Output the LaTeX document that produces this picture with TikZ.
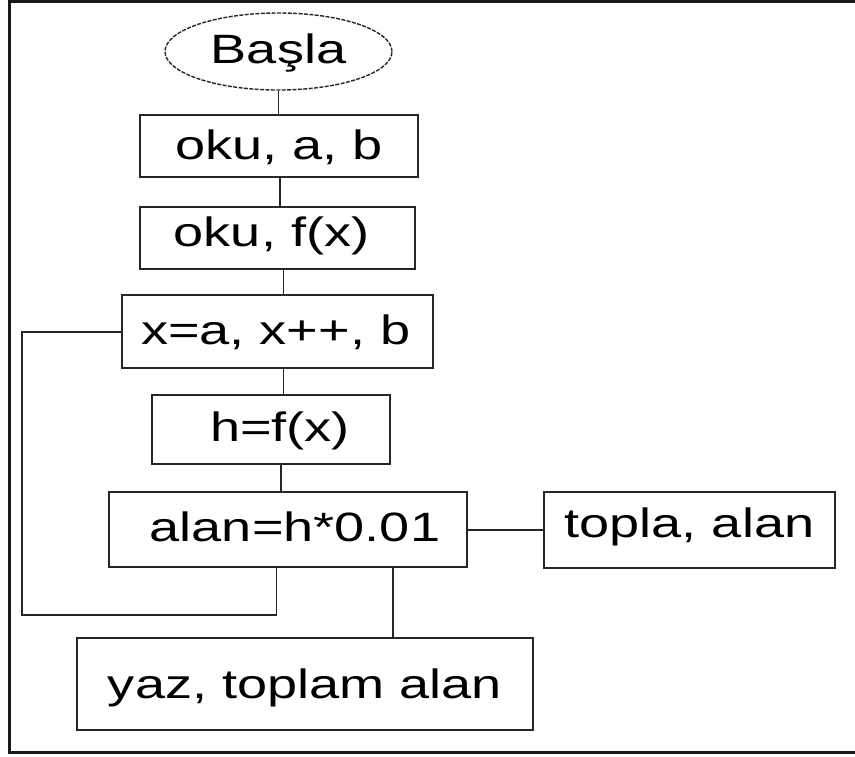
\documentclass[tikz,border=0pt]{standalone}
\usepackage{fontspec}
\setmainfont{Liberation Sans}[FakeStretch=1.32]
\usetikzlibrary{shapes.geometric}
\begin{document}
\begin{tikzpicture}[x=1pt,y=-1pt,
  ink/.style={line width=1.8pt,draw=black!85},
  label font/.style={font=\fontsize{41}{48}\selectfont},
  stepbox/.style={ink,rectangle,inner sep=0pt,label font,text height=29pt},
  startnode/.style={ink,ellipse,inner sep=0pt,label font,text height=29pt,
    line width=1.4pt,dash pattern=on 4pt off 1.4pt},
  link/.style={ink}]
  \useasboundingbox (0,0) rectangle (855,756);
  \fill[white] (0,0) rectangle (855,756);

  % outer frame: top, left and bottom edges
  \coordinate (ftl) at (9,1.5);
  \coordinate (fbl) at (9,752);
  \coordinate (ftr) at (855,1.5);
  \coordinate (fbr) at (855,752);
  \draw[line width=3pt,black!90] (ftr) -- (ftl) -- (fbl) -- (fbr);

  % flow chart steps
  \node[startnode,minimum width=227pt,minimum height=77pt,text depth=6pt]
    (start) at (278.5,51.5) {Başla};
  \node[stepbox,minimum width=278pt,minimum height=62pt,text depth=3pt]
    (read1) at (279,146) {oku, a, b};
  \node[stepbox,minimum width=275pt,minimum height=62pt,text depth=11.5pt]
    (read2) at (277.5,238) {oku, f(x)\hspace*{12pt}};
  \node[stepbox,minimum width=311pt,minimum height=73pt,text depth=4pt]
    (loop) at (277.75,331.5) {x=a, x++, b\hspace*{4pt}};
  \node[stepbox,minimum width=238pt,minimum height=69pt,text depth=5pt]
    (eval) at (271,429.5) {\hspace*{18pt}h=f(x)};
  \node[stepbox,minimum width=358pt,minimum height=75pt,text depth=5pt]
    (area) at (288,529.5) {\hspace*{14pt}alan=h*0.01};
  \node[stepbox,minimum width=291pt,minimum height=76pt,text depth=15pt]
    (sum) at (689.5,530) {topla, alan};
  \node[stepbox,minimum width=456pt,minimum height=92pt,text depth=-5pt]
    (out) at (305,684) {yaz, toplam alan};

  % x positions of the vertical connectors
  \coordinate (c01) at (278.5,0);
  \coordinate (c12) at (280,0);
  \coordinate (c23) at (283.5,0);
  \coordinate (c34) at (283.5,0);
  \coordinate (c45) at (281,0);
  \coordinate (cback) at (276.5,0);
  \coordinate (cout) at (393,0);
  % corners of the loop-back line
  \coordinate (lb1) at (276.5,615);
  \coordinate (lb2) at (22,615);
  \coordinate (lb3) at (22,332);

  \draw[link] (start.south -| c01) -- (read1.north -| c01);
  \draw[link] (read1.south -| c12) -- (read2.north -| c12);
  \draw[link] (read2.south -| c23) -- (loop.north -| c23);
  \draw[link] (loop.south -| c34) -- (eval.north -| c34);
  \draw[link] (eval.south -| c45) -- (area.north -| c45);
  \draw[link] (area.east |- sum.west) -- (sum.west);
  \draw[link] (area.south -| cback) -- (lb1) -- (lb2) -- (lb3) -- (loop.west |- lb3);
  \draw[link] (area.south -| cout) -- (out.north -| cout);
\end{tikzpicture}
\end{document}
